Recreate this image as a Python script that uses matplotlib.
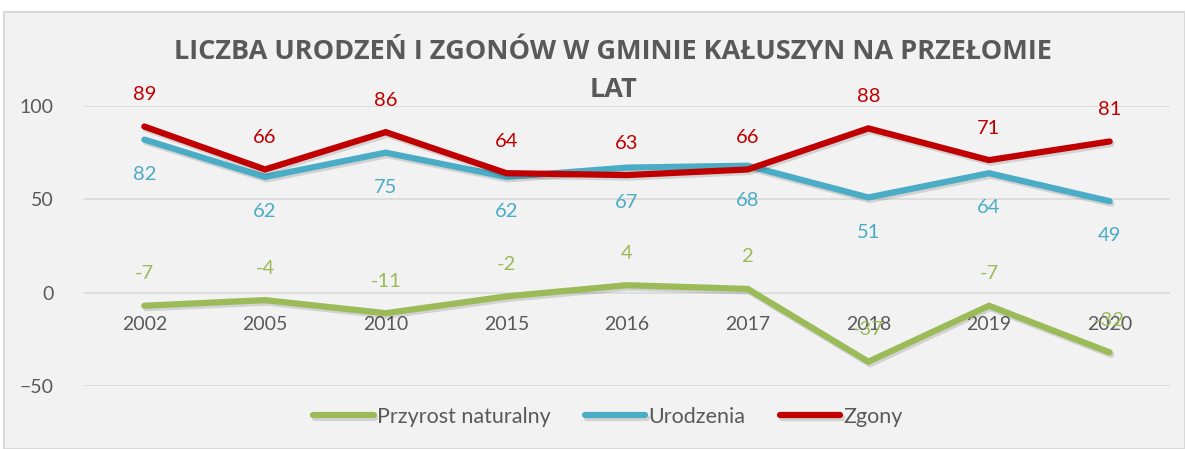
import matplotlib.pyplot as plt
import matplotlib.patheffects as pe
from matplotlib.patches import Rectangle
import numpy as np

years = ["2002", "2005", "2010", "2015", "2016", "2017", "2018", "2019", "2020"]
przyrost = [-7, -4, -11, -2, 4, 2, -37, -7, -32]
urodzenia = [82, 62, 75, 62, 67, 68, 51, 64, 49]
zgony = [89, 66, 86, 64, 63, 66, 88, 71, 81]

green = "#9BBB59"
blue = "#4BACC6"
red = "#C00000"
text_gray = "#595959"

plt.rcParams["font.family"] = ["Lato", "DejaVu Sans"]

fig = plt.figure(figsize=(11.85, 4.49), dpi=100)
fig.patch.set_facecolor("white")
# chart frame
frame = Rectangle((4 / 1185, 0), 1 - 4 / 1185, 1 - 12 / 449, transform=fig.transFigure,
                  facecolor="#F2F2F2", edgecolor="#D9D9D9", linewidth=1.5, zorder=-10)
fig.patches.append(frame)

ax = fig.add_axes([84 / 1185, 1 - 386 / 449, (1170 - 84) / 1185, (386 - 106) / 449])
ax.set_zorder(1)
ax.set_facecolor("none")
x = np.arange(len(years))

shadow = [pe.SimpleLineShadow(offset=(1.2, -1.8), alpha=0.13, rho=0.3), pe.Normal()]
series = [(przyrost, green, "Przyrost naturalny", 23),
          (urodzenia, blue, "Urodzenia", -25),
          (zgony, red, "Zgony", 23)]
for vals, col, name, off in series:
    ax.plot(x, vals, color=col, lw=4.5, solid_capstyle="round", solid_joinstyle="miter",
            label=name, path_effects=shadow, zorder=3)
    for xi, v in zip(x, vals):
        ax.annotate(str(v), (xi, v), xytext=(0, off), textcoords="offset points",
                    ha="center", va="center", color=col, fontsize=14.5, zorder=4)

ax.set_xlim(-0.5, len(years) - 0.5)
ax.set_ylim(-50, 100)
ax.set_yticks([-50, 0, 50, 100])
ax.yaxis.grid(True, color="#D9D9D9", lw=1.2)
ax.set_axisbelow(True)
ax.tick_params(axis="y", length=0, labelsize=14, labelcolor=text_gray, pad=22)
for s in ax.spines.values():
    s.set_visible(False)
ax.set_xticks([])
for xi, yr in zip(x, years):
    ax.text(xi, -17, yr, ha="center", va="center", fontsize=14, color=text_gray, zorder=2)

fig.text(613 / 1185, 1 - 71 / 449, "LICZBA URODZEŃ I ZGONÓW W GMINIE KAŁUSZYN NA PRZEŁOMIE\nLAT",
         ha="center", va="center", fontsize=19.5, fontweight="bold", color=text_gray,
         linespacing=1.6, family=["Open Sans", "DejaVu Sans"])

leg = ax.legend(loc="center", bbox_to_anchor=(608 / 1185, 1 - 417 / 449), bbox_transform=fig.transFigure,
                ncol=3, frameon=False, fontsize=15.5, handlelength=2.8, handletextpad=0.15, columnspacing=1.6)
for t in leg.get_texts():
    t.set_color(text_gray)

fig.savefig("out.png", dpi=100, facecolor=fig.get_facecolor())
